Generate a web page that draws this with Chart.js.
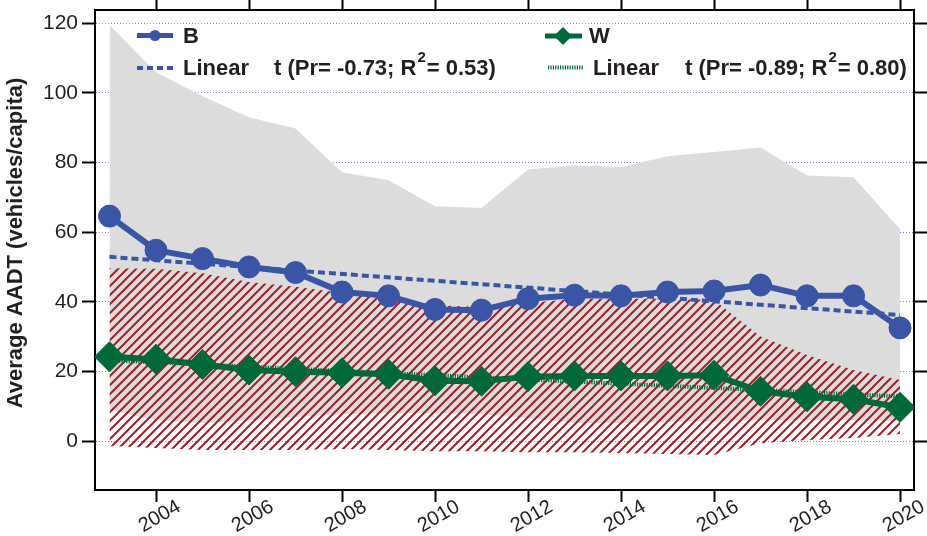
<!DOCTYPE html>
<html>
<head>
<meta charset="utf-8">
<script src="https://cdn.jsdelivr.net/npm/chart.js@4/dist/chart.umd.min.js"></script>
<style>
  html, body { margin: 0; padding: 0; background: #ffffff; }
  canvas { display: block; }
</style>
</head>
<body>
<canvas id="c" width="927" height="536"></canvas>
<script>
// ---- data -------------------------------------------------------------
const years = [2003, 2004, 2005, 2006, 2007, 2008, 2009, 2010, 2011,
               2012, 2013, 2014, 2015, 2016, 2017, 2018, 2019, 2020];
const xTickYears = [2004, 2006, 2008, 2010, 2012, 2014, 2016, 2018, 2020];
const yTickValues = [0, 20, 40, 60, 80, 100, 120];

// mean AADT per capita
const bValues = [64.6, 54.8, 52.4, 50.0, 48.4, 42.8, 41.7, 37.8, 37.6,
                 40.9, 41.9, 41.7, 42.8, 43.1, 44.8, 41.7, 41.7, 32.5];
const wValues = [24.2, 23.5, 22.0, 20.4, 19.9, 19.6, 19.2, 17.3, 17.2,
                 18.5, 18.7, 18.7, 18.7, 18.9, 14.3, 12.7, 12.0, 9.7];

// spread bands around each series
const bBandHigh = [119.4, 105.9, 99.0, 93.0, 89.8, 77.2, 74.9, 67.4, 66.9,
                   78.0, 79.2, 78.7, 81.8, 83.0, 84.3, 76.3, 75.8, 60.8];
const bBandLow  = [8.9, 6.0, 5.2, 6.0, 6.9, 7.7, 8.0, 8.0, 7.7,
                   6.6, 5.2, 5.2, 5.5, 5.7, 6.0, 6.0, 6.0, 5.7];
const wBandHigh = [49.6, 49.5, 48.2, 45.7, 44.3, 42.5, 41.0, 39.0, 38.5,
                   39.6, 40.9, 40.9, 40.9, 40.5, 30.0, 24.7, 20.4, 17.5];
const wBandLow  = [-1.4, -2.0, -2.6, -2.6, -2.6, -2.3, -2.6, -2.9, -2.9,
                   -3.2, -3.2, -3.4, -3.7, -4.0, -0.6, 0.3, 0.9, 2.0];

// linear trends (end points) and their statistics [Pr, R²]
const trendYears = [2003, 2020];
const bTrendValues = [52.9, 36.2];
const wTrendValues = [23.2, 12.8];
const bFitStats = [-0.73, 0.53];
const wFitStats = [-0.89, 0.80];

// ---- styling ----------------------------------------------------------
const FONT = '"Liberation Sans", Arial, Helvetica, sans-serif';
const TEXT = '#231f20';
const BLUE = '#3a55a5';
const GREEN = '#00693a';
const GREY = '#dcdcdc';
const HATCH = '#a31f24';
const GRID = 'rgba(120,120,205,0.9)';

const X_MIN = 2002.688, X_MAX = 2020.301;
const Y_MIN = -14.06, Y_MAX = 123.8;

const pts = (xs, ys) => xs.map((x, i) => ({ x, y: ys[i] }));

function hatchPattern(color, size, width) {
  const tile = document.createElement('canvas');
  tile.width = size; tile.height = size;
  const g = tile.getContext('2d');
  g.strokeStyle = color;
  g.lineWidth = width;
  g.beginPath();
  g.moveTo(0, size); g.lineTo(size, 0);
  g.moveTo(-2, 2); g.lineTo(2, -2);
  g.moveTo(size - 2, size + 2); g.lineTo(size + 2, size - 2);
  g.stroke();
  return g.createPattern(tile, 'repeat');
}

// fixes an axis box to an exact size so the plot frame lands where wanted
function fixBox(w, h) {
  return (scale) => {
    if (w !== null) scale.width = w;
    if (h !== null) scale.height = h;
    scale.paddingLeft = scale.paddingRight = 0;
    scale.paddingTop = scale.paddingBottom = 0;
  };
}
const setTicks = (values) => (scale) => { scale.ticks = values.map(v => ({ value: v })); };

const noPoint = { pointRadius: 0, pointHoverRadius: 0, pointHitRadius: 0 };

// ---- key and axis title ----------------------------------------------
function drawFitText(ctx, x, y, stats) {
  ctx.font = `bold 22px ${FONT}`;
  const head = `t (Pr= ${stats[0].toFixed(2)}; R`;
  ctx.fillText(head, x, y);
  x += ctx.measureText(head).width + 1;
  ctx.font = `bold 15px ${FONT}`;
  ctx.fillText('2', x, y - 13);
  x += ctx.measureText('2').width + 1;
  ctx.font = `bold 22px ${FONT}`;
  ctx.fillText(`= ${stats[1].toFixed(2)})`, x, y);
}

const decorations = {
  id: 'decorations',
  afterDraw(chart) {
    const ctx = chart.ctx;
    const ds = chart.data.datasets;
    const b = ds[5], bt = ds[4], w = ds[7], wt = ds[6];
    ctx.save();
    ctx.fillStyle = TEXT;
    ctx.textBaseline = 'alphabetic';
    ctx.textAlign = 'left';

    // B entry
    ctx.strokeStyle = b.borderColor; ctx.lineWidth = 5; ctx.setLineDash([]);
    ctx.beginPath(); ctx.moveTo(137, 35.5); ctx.lineTo(173, 35.5); ctx.stroke();
    ctx.fillStyle = b.borderColor;
    ctx.beginPath(); ctx.arc(155, 35.5, 5.5, 0, Math.PI * 2); ctx.fill();
    ctx.fillStyle = TEXT;
    ctx.font = `bold 22px ${FONT}`;
    ctx.fillText(b.label, 183, 43);

    // B trend entry
    ctx.strokeStyle = bt.borderColor; ctx.lineWidth = 4; ctx.setLineDash([6, 4]);
    ctx.beginPath(); ctx.moveTo(137, 68); ctx.lineTo(175, 68); ctx.stroke();
    ctx.setLineDash([]);
    ctx.fillText(bt.label, 183, 74.5);
    drawFitText(ctx, 274, 74.5, bFitStats);

    // W entry
    ctx.strokeStyle = w.borderColor; ctx.lineWidth = 5;
    ctx.beginPath(); ctx.moveTo(545, 36); ctx.lineTo(582, 36); ctx.stroke();
    ctx.fillStyle = w.borderColor;
    ctx.beginPath();
    ctx.moveTo(563 - 9, 36); ctx.lineTo(563, 36 - 9); ctx.lineTo(563 + 9, 36); ctx.lineTo(563, 36 + 9);
    ctx.closePath(); ctx.fill();
    ctx.fillStyle = TEXT;
    ctx.font = `bold 22px ${FONT}`;
    ctx.fillText(w.label, 589, 43);

    // W trend entry
    ctx.strokeStyle = wt.borderColor; ctx.lineWidth = 4; ctx.setLineDash([1.2, 1.2]);
    ctx.beginPath(); ctx.moveTo(548, 67.5); ctx.lineTo(583, 67.5); ctx.stroke();
    ctx.setLineDash([]);
    ctx.fillText(wt.label, 593, 74.5);
    drawFitText(ctx, 685, 74.5, wFitStats);

    // y axis title
    ctx.translate(16, 243);
    ctx.rotate(-Math.PI / 2);
    ctx.textAlign = 'center';
    ctx.textBaseline = 'middle';
    ctx.font = `bold 22px ${FONT}`;
    ctx.fillText('Average AADT (vehicles/capita)', 0, 0);
    ctx.restore();
  }
};

// ---- chart ------------------------------------------------------------
const tickFont = { family: FONT, size: 21 };

new Chart(document.getElementById('c'), {
  type: 'line',
  data: {
    datasets: [
      { label: 'B range low', data: pts(years, bBandLow), borderWidth: 0, fill: false, order: 6, ...noPoint },
      { label: 'B range', data: pts(years, bBandHigh), borderWidth: 0, backgroundColor: GREY, fill: '-1', order: 6, ...noPoint },
      { label: 'W range low', data: pts(years, wBandLow), borderWidth: 0, fill: false, order: 5, ...noPoint },
      { label: 'W range', data: pts(years, wBandHigh), borderWidth: 0, backgroundColor: hatchPattern(HATCH, 9, 2), fill: '-1', order: 5, ...noPoint },
      { label: 'Linear', data: pts(trendYears, bTrendValues), borderColor: BLUE, borderWidth: 4, borderDash: [7, 4], fill: false, order: 3, ...noPoint },
      { label: 'B', data: pts(years, bValues), borderColor: BLUE, backgroundColor: BLUE, borderWidth: 6,
        pointStyle: 'circle', pointRadius: 11, pointHoverRadius: 11, pointBorderWidth: 1, pointBackgroundColor: BLUE, pointBorderColor: BLUE, fill: false, order: 4 },
      { label: 'Linear', data: pts(trendYears, wTrendValues), borderColor: GREEN, borderWidth: 4, borderDash: [1.2, 1.2], fill: false, order: 1, ...noPoint },
      { label: 'W', data: pts(years, wValues), borderColor: GREEN, backgroundColor: GREEN, borderWidth: 6,
        pointStyle: 'rectRot', pointRadius: 15, pointHoverRadius: 15, pointBorderWidth: 1, pointBackgroundColor: GREEN, pointBorderColor: GREEN, fill: false, order: 2 }
    ]
  },
  options: {
    responsive: false,
    animation: false,
    devicePixelRatio: 1,
    events: [],
    layout: { padding: 0, autoPadding: false },
    elements: { line: { tension: 0 } },
    plugins: { legend: { display: false }, tooltip: { enabled: false }, title: { display: false } },
    scales: {
      x: {
        type: 'linear', position: 'bottom', min: X_MIN, max: X_MAX,
        afterBuildTicks: setTicks(xTickYears),
        afterFit: fixBox(null, 46),
        grid: { drawOnChartArea: false, drawTicks: true, tickLength: 12, tickWidth: 2, tickColor: '#000' },
        border: { display: true, color: '#000', width: 2 },
        ticks: { minRotation: 30, maxRotation: 30, autoSkip: false, labelOffset: 23, padding: -7,
                 color: TEXT, font: { family: FONT, size: 20 }, callback: (v) => String(v) }
      },
      x2: {
        type: 'linear', axis: 'x', position: 'top', min: X_MIN, max: X_MAX,
        afterBuildTicks: setTicks(xTickYears),
        afterFit: fixBox(null, 10),
        grid: { drawOnChartArea: false, drawTicks: true, tickLength: 10, tickWidth: 2, tickColor: '#000' },
        border: { display: true, color: '#000', width: 2 },
        ticks: { display: false }
      },
      y: {
        type: 'linear', position: 'left', min: Y_MIN, max: Y_MAX,
        afterBuildTicks: setTicks(yTickValues),
        afterFit: fixBox(95, null),
        grid: { color: GRID, lineWidth: 1, drawTicks: true, tickLength: 13, tickWidth: 2, tickColor: '#000', tickBorderDash: [] },
        border: { display: true, color: '#000', width: 2, dash: [1, 2] },
        ticks: { padding: 4, color: TEXT, font: tickFont, callback: (v) => String(v) }
      },
      y2: {
        type: 'linear', axis: 'y', position: 'right', min: Y_MIN, max: Y_MAX,
        afterBuildTicks: setTicks(yTickValues),
        afterFit: fixBox(13, null),
        grid: { drawOnChartArea: false, drawTicks: true, tickLength: 13, tickWidth: 2, tickColor: '#000' },
        border: { display: true, color: '#000', width: 2 },
        ticks: { display: false }
      }
    }
  },
  plugins: [decorations]
});
</script>
</body>
</html>
